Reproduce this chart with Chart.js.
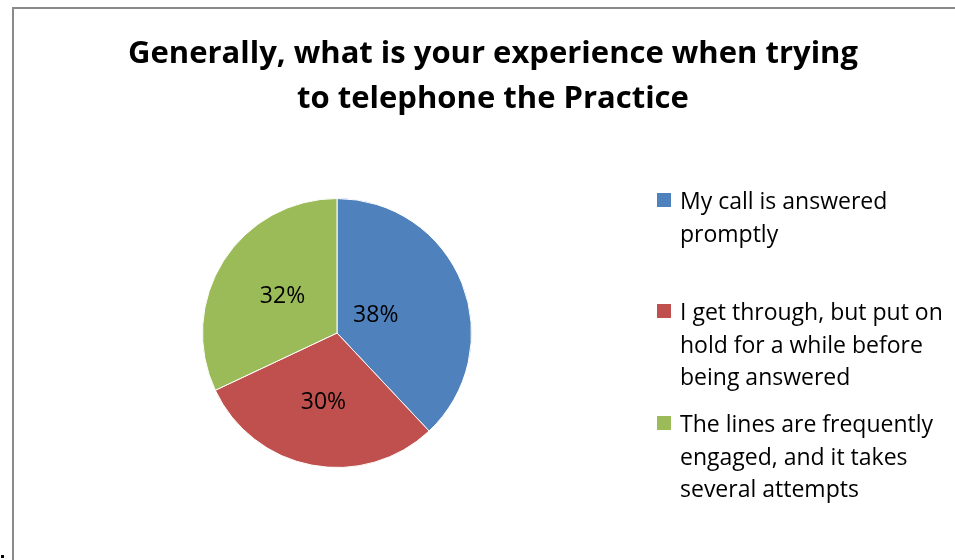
<!DOCTYPE html>
<html>
<head>
<meta charset="utf-8">
<script src="https://cdn.jsdelivr.net/npm/chart.js@4/dist/chart.umd.min.js"></script>
<style>
  html, body { margin: 0; padding: 0; background: #fff; }
  #wrap { position: relative; width: 955px; height: 560px; }
  canvas { display: block; }
</style>
</head>
<body>
<div id="wrap"><canvas id="c" width="955" height="560"></canvas></div>
<script>
// Survey question and answers
const titleLines = ['Generally, what is your experience when trying', 'to telephone the Practice'];
const categories = [
  'My call is answered promptly',
  'I get through, but put on hold for a while before being answered',
  'The lines are frequently engaged, and it takes several attempts'
];
// Legend text broken into the lines it is shown on
const legendLines = [
  ['My call is answered', 'promptly'],
  ['I get through, but put on', 'hold for a while before', 'being answered'],
  ['The lines are frequently', 'engaged, and it takes', 'several attempts']
];
const percentages = [38, 30, 32];
const sliceColors = ['#4f81bd', '#c0504d', '#9bbb59'];

const FONT = "'Open Sans', sans-serif";
const TITLE_FONT = "bold 31px " + FONT;
const LEGEND_FONT = "23px " + FONT;
const LABEL_FONT = "23px " + FONT;

// Frame, title and legend drawn around the pie
const decorPlugin = {
  id: 'decor',
  beforeDraw(chart) {
    const ctx = chart.ctx;
    ctx.save();
    ctx.fillStyle = '#fff';
    ctx.fillRect(0, 0, chart.width, chart.height);
    ctx.strokeStyle = '#8a8a8a';
    ctx.lineWidth = 2;
    ctx.beginPath();
    ctx.moveTo(13, chart.height);
    ctx.lineTo(13, 8);
    ctx.lineTo(chart.width, 8);
    ctx.stroke();
    ctx.fillStyle = '#000';
    ctx.fillRect(1, 555, 3, 3);
    ctx.restore();
  },
  afterDraw(chart) {
    const ctx = chart.ctx;
    ctx.save();
    // title
    ctx.fillStyle = '#000';
    ctx.textAlign = 'center';
    ctx.textBaseline = 'alphabetic';
    ctx.font = TITLE_FONT;
    titleLines.forEach((t, i) => ctx.fillText(t, 493, 63 + i * 44.5));
    // legend
    const meta = chart.getDatasetMeta(0);
    const starts = [209, 320, 432];
    ctx.textAlign = 'left';
    ctx.font = LEGEND_FONT;
    legendLines.forEach((lines, i) => {
      if (!meta.data[i]) return;
      ctx.fillStyle = chart.data.datasets[0].backgroundColor[i];
      ctx.fillRect(657, starts[i] - 16, 14, 14);
      ctx.fillStyle = '#000';
      lines.forEach((ln, j) => ctx.fillText(ln, 680, starts[i] + j * 32.5));
    });
    // percentage labels inside slices
    const radial = [0.31, 0.54, 0.48];
    ctx.textAlign = 'center';
    ctx.textBaseline = 'middle';
    ctx.font = LABEL_FONT;
    meta.data.forEach((arc, i) => {
      const p = arc.getProps(['x', 'y', 'startAngle', 'endAngle', 'outerRadius'], true);
      const mid = (p.startAngle + p.endAngle) / 2;
      const r = p.outerRadius * radial[i];
      ctx.fillText(percentages[i] + '%', p.x + Math.cos(mid) * r, p.y + Math.sin(mid) * r - 2);
    });
    ctx.restore();
  }
};

function draw() {
  new Chart(document.getElementById('c'), {
    type: 'pie',
    data: {
      labels: categories,
      datasets: [{
        data: percentages,
        backgroundColor: sliceColors,
        borderColor: '#ffffff',
        borderWidth: 1
      }]
    },
    options: {
      responsive: false,
      animation: false,
      layout: { padding: { left: 202, right: 483, top: 198, bottom: 92 } },
      plugins: {
        legend: { display: false },
        title: { display: false },
        tooltip: { enabled: false }
      }
    },
    plugins: [decorPlugin]
  });
}

Promise.all([TITLE_FONT, LEGEND_FONT, LABEL_FONT].map(f => document.fonts.load(f)))
  .then(draw, draw);
</script>
</body>
</html>
